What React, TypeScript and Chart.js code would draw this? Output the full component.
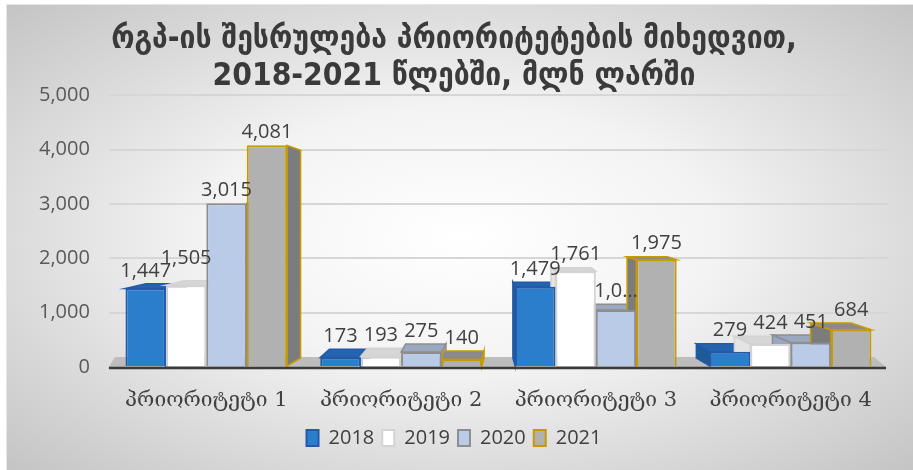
import React, { useEffect, useRef } from "react";
import { Chart, registerables } from "chart.js";

Chart.register(...registerables);

const titleLines = [
  "რგპ-ის შესრულება პრიორიტეტების მიხედვით,",
  "2018-2021 წლებში, მლნ ლარში",
];
const categories = ["პრიორიტეტი 1", "პრიორიტეტი 2", "პრიორიტეტი 3", "პრიორიტეტი 4"];
const years = ["2018", "2019", "2020", "2021"];
const values2018 = [1447, 173, 1479, 279];
const values2019 = [1505, 193, 1761, 424];
const values2020 = [3015, 275, 1050, 451];
const values2021 = [4081, 140, 1975, 684];
// label text shown in the picture (one label is cut off there)
const labelOverrides2020 = [null, null, "1,0…", null];
const yTickValues = [0, 1000, 2000, 3000, 4000, 5000];

const seriesValues = [values2018, values2019, values2020, values2021];
const noOverrides = [null, null, null, null];
const seriesOverrides = [noOverrides, noOverrides, labelOverrides2020, noOverrides];

const fills = ["#2b7ecb", "#ffffff", "#bacbe8", "#b1b1b1"];
const borders = ["#2359a8", "#d3d3d3", "#8e8e8e", "#c99a00"];
const sides = ["#1d5a98", "#e4e4e4", "#98a8c4", "#7c7c7c"];
const tops = ["#2463b0", "#d6d6d6", "#9aa8c0", "#8a8a8a"];

const fmt = (v: number) => v.toLocaleString("en-US");
const topDepth = (y: number) => Math.max(0, Math.min(9, (y - 205) * 0.055));

const threeD = {
  id: "threeD",
  beforeDatasetsDraw(chart: any) {
    const { ctx, chartArea } = chart;
    const bottom = chartArea.bottom;
    ctx.save();
    // floor
    ctx.fillStyle = "#bdbdbd";
    ctx.beginPath();
    ctx.moveTo(chartArea.left + 6, bottom - 10);
    ctx.lineTo(chartArea.right - 14, bottom - 10);
    ctx.lineTo(chartArea.right - 2, bottom);
    ctx.lineTo(chartArea.left, bottom);
    ctx.closePath();
    ctx.fill();
    const mid = (chartArea.left + chartArea.right) / 2;
    chart.data.datasets.forEach((ds: any, i: number) => {
      const meta = chart.getDatasetMeta(i);
      meta.data.forEach((bar: any) => {
        const x1 = bar.x - bar.width / 2;
        const x2 = bar.x + bar.width / 2;
        const top = bar.y;
        const base = bar.base;
        const dx = (mid - bar.x) * 0.058;
        const h = topDepth(top);
        const hb = 8;
        const edge = dx > 0 ? x2 : x1;
        ctx.strokeStyle = borders[i];
        ctx.lineWidth = 1.5;
        // side face
        if (Math.abs(dx) > 2) {
          ctx.fillStyle = sides[i];
          ctx.beginPath();
          ctx.moveTo(edge, top);
          ctx.lineTo(edge + dx, top - h + (h < 1 ? 5 : 0));
          ctx.lineTo(edge + dx, base - hb);
          ctx.lineTo(edge, base);
          ctx.closePath();
          ctx.fill();
          ctx.stroke();
        }
        // top face
        if (h > 0.5) {
          ctx.fillStyle = tops[i];
          ctx.beginPath();
          ctx.moveTo(x1, top);
          ctx.lineTo(x2, top);
          ctx.lineTo(x2 + dx, top - h);
          ctx.lineTo(x1 + dx, top - h);
          ctx.closePath();
          ctx.fill();
          ctx.stroke();
        }
      });
    });
    ctx.restore();
  },
  afterDatasetsDraw(chart: any) {
    const { ctx, chartArea } = chart;
    ctx.save();
    // floor front edge
    ctx.strokeStyle = "#3a3a3a";
    ctx.lineWidth = 2.5;
    ctx.beginPath();
    ctx.moveTo(chartArea.left, chartArea.bottom + 1);
    ctx.lineTo(chartArea.right - 2, chartArea.bottom + 1);
    ctx.stroke();
    // data labels (raised a little when they would collide with the previous one)
    ctx.fillStyle = "#404040";
    ctx.font = "20px 'Open Sans', 'DejaVu Sans', sans-serif";
    ctx.textAlign = "center";
    ctx.textBaseline = "bottom";
    const nCat = chart.data.labels.length;
    for (let j = 0; j < nCat; j++) {
      let prev: { l: number; r: number; b: number } | null = null;
      chart.data.datasets.forEach((ds: any, i: number) => {
        const bar: any = chart.getDatasetMeta(i).data[j];
        const override = seriesOverrides[i][j];
        const txt = override ?? fmt(seriesValues[i][j]);
        const w = ctx.measureText(txt).width;
        let b = bar.y - topDepth(bar.y) - 3;
        const l = bar.x - w / 2;
        const r = bar.x + w / 2;
        if (prev && l < prev.r - 1 && Math.abs(b - prev.b) < 12) {
          b = prev.b - 13;
        }
        ctx.fillText(txt, bar.x, b);
        prev = { l, r, b };
      });
    }
    ctx.restore();
  },
};

export default function App() {
  const ref = useRef<HTMLCanvasElement | null>(null);
  useEffect(() => {
    document.body.style.margin = "0";
    const canvas = ref.current!;
    const chart = new Chart(canvas, {
      type: "bar",
      data: {
        labels: categories,
        datasets: years.map((y, i) => ({
          label: y,
          data: seriesValues[i],
          backgroundColor: fills[i],
          borderColor: borders[i],
          borderWidth: 2,
          categoryPercentage: 0.83,
          barPercentage: 1,
        })),
      },
      options: {
        responsive: false,
        animation: false,
        layout: { padding: { left: 20, right: 25, top: 0, bottom: 12 } },
        plugins: {
          title: {
            display: true,
            text: titleLines,
            color: "#3a3a3a",
            font: { family: "'DejaVu Sans Condensed', 'DejaVu Sans', sans-serif", size: 31.5, weight: "bold", lineHeight: 1.15 },
            padding: { top: 22, bottom: 1 },
          },
          legend: {
            position: "bottom",
            labels: {
              color: "#404040",
              boxWidth: 12,
              boxHeight: 16,
              padding: 8,
              font: { family: "'Open Sans', 'DejaVu Sans', sans-serif", size: 20 },
            },
          },
          tooltip: { enabled: false },
        },
        scales: {
          x: {
            grid: { display: false },
            border: { display: false },
            afterFit: (s: any) => { s.height = 53; },
            ticks: {
              color: "#404040",
              padding: 13,
              font: { family: "'DejaVu Serif', serif", size: 21 },
            },
          },
          y: {
            min: 0,
            max: 5000,
            afterBuildTicks: (s: any) => { s.ticks = yTickValues.map((v) => ({ value: v })); },
            grid: {
              color: (c: any) => (c.tick && c.tick.value === 0 ? "rgba(0,0,0,0)" : "#d6d6d6"),
              lineWidth: 2,
              drawTicks: false,
            },
            border: { display: false },
            ticks: {
              color: "#595959",
              padding: 19,
              font: { family: "'Open Sans', 'DejaVu Sans', sans-serif", size: 20 },
              callback: (v: any) => fmt(Number(v)),
            },
          },
        },
      },
      plugins: [threeD],
    });
    return () => chart.destroy();
  }, []);
  return (
    <div style={{ position: "relative", width: 913, height: 470, overflow: "hidden", background: "#ffffff" }}>
      <div
        style={{
          position: "absolute",
          left: 6,
          top: 4,
          width: 907,
          height: 466,
          borderLeft: "1px solid #e6e6e6",
          borderTop: "1px solid #e6e6e6",
          background: "radial-gradient(ellipse farthest-corner at 50% 50%, #ffffff 0%, #f3f3f3 40%, #c4c4c4 100%)",
        }}
      />
      <canvas ref={ref} width={913} height={470} style={{ position: "absolute", left: 0, top: 0 }} />
    </div>
  );
}
